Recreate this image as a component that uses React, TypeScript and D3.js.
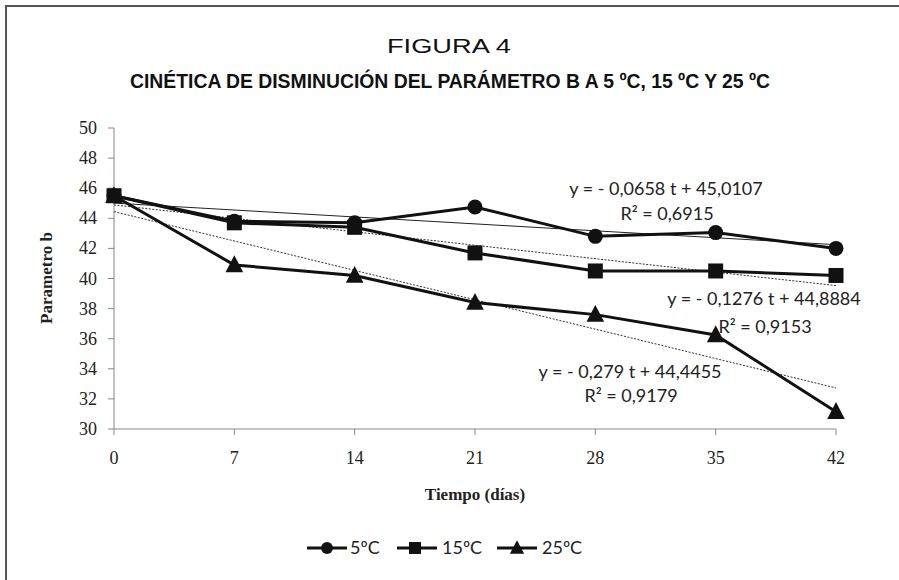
import React from "react";
import * as d3 from "d3";

const days = [0, 7, 14, 21, 28, 35, 42];
const s5 = [45.5, 43.8, 43.7, 44.75, 42.8, 43.05, 42.0];
const s15 = [45.5, 43.7, 43.4, 41.7, 40.5, 40.5, 40.2];
const s25 = [45.5, 40.9, 40.2, 38.4, 37.6, 36.25, 31.15];
const yTicks = [30, 32, 34, 36, 38, 40, 42, 44, 46, 48, 50];

// trend line coefficients (slope, intercept)
const trend5 = [-0.0658, 45.0107];
const trend15 = [-0.1276, 44.8884];
const trend25 = [-0.279, 44.4455];

const serif = "'Liberation Serif', 'DejaVu Serif', serif";
const sans = "Lato, 'Open Sans', sans-serif";
const narrow = "'Liberation Sans Narrow', 'Liberation Sans', Arial, sans-serif";

export default function App() {
  const x = d3.scaleLinear().domain([0, 42]).range([114, 836]);
  const y = d3.scaleLinear().domain([30, 50]).range([429, 128]);

  const line = d3
    .line<number>()
    .x((d, i) => x(days[i]))
    .y((d) => y(d));

  const trend = (c: number[]) => {
    const t0 = 0, t1 = 42;
    return { x1: x(t0), y1: y(c[0] * t0 + c[1]), x2: x(t1), y2: y(c[0] * t1 + c[1]) };
  };

  const tri = (cx: number, cy: number, s: number) =>
    `M${cx},${cy - s * 0.6}L${cx + s * 0.55},${cy + s * 0.45}L${cx - s * 0.55},${cy + s * 0.45}Z`;

  const t5 = trend(trend5);
  const t15 = trend(trend15);
  const t25 = trend(trend25);

  return (
    <svg width={899} height={580} style={{ position: "absolute", left: 0, top: 0, background: "#fff" }}>
      <rect x={0} y={0} width={899} height={580} fill="#fff" />
      <path d="M6,580V6H899" fill="none" stroke="#555" strokeWidth={2} />

      <text x={449} y={53} textAnchor="middle" fontFamily={narrow} fontSize={20} fill="#111"
        textLength={124} lengthAdjust="spacingAndGlyphs">
        FIGURA 4
      </text>
      <text x={450} y={88} textAnchor="middle" fontFamily={narrow} fontSize={20} fontWeight="bold" fill="#111"
        textLength={640} lengthAdjust="spacingAndGlyphs">
        CINÉTICA DE DISMINUCIÓN DEL PARÁMETRO B A 5 ºC, 15 ºC Y 25 ºC
      </text>

      {/* axes */}
      <line x1={114} y1={y(50)} x2={114} y2={y(30)} stroke="#888" />
      <line x1={114} y1={y(30)} x2={836} y2={y(30)} stroke="#888" />
      {yTicks.map((v) => (
        <g key={v}>
          <line x1={108} x2={114} y1={y(v)} y2={y(v)} stroke="#888" />
          <text x={97} y={y(v) + 6} textAnchor="end" fontFamily={serif} fontSize={18} fill="#222">
            {v}
          </text>
        </g>
      ))}
      {days.map((d) => (
        <g key={d}>
          <line x1={x(d)} x2={x(d)} y1={y(30)} y2={y(30) + 6} stroke="#888" />
          <text x={x(d)} y={y(30) + 35} textAnchor="middle" fontFamily={serif} fontSize={18} fill="#222">
            {d}
          </text>
        </g>
      ))}
      <text x={475} y={500} textAnchor="middle" fontFamily={serif} fontSize={17} fontWeight="bold" fill="#222">
        Tiempo (días)
      </text>
      <text transform="translate(52,278) rotate(-90)" textAnchor="middle" fontFamily={serif} fontSize={17} fontWeight="bold" fill="#222">
        Parametro b
      </text>

      {/* trend lines */}
      <line {...t5} stroke="#222" strokeWidth={1} />
      <line {...t15} stroke="#333" strokeWidth={1} strokeDasharray="2,1.5" />
      <line {...t25} stroke="#333" strokeWidth={1} strokeDasharray="2,1.5" />

      {/* series */}
      <path d={line(s5) || ""} fill="none" stroke="#111" strokeWidth={3} />
      <path d={line(s15) || ""} fill="none" stroke="#111" strokeWidth={3} />
      <path d={line(s25) || ""} fill="none" stroke="#111" strokeWidth={3} />
      {s5.map((v, i) => (
        <circle key={"c" + i} cx={x(days[i])} cy={y(v)} r={7.5} fill="#111" />
      ))}
      {s15.map((v, i) => (
        <rect key={"s" + i} x={x(days[i]) - 7.5} y={y(v) - 7.5} width={15} height={15} fill="#111" />
      ))}
      {s25.map((v, i) => (
        <path key={"t" + i} d={tri(x(days[i]), y(v), 16)} fill="#111" />
      ))}

      {/* equations */}
      <g fontFamily={sans} fontSize={18} fill="#222">
        <text x={666} y={195} textAnchor="middle">y = - 0,0658 t + 45,0107</text>
        <text x={667} y={220} textAnchor="middle">R² = 0,6915</text>
        <text x={764} y={305} textAnchor="middle">y = - 0,1276 t + 44,8884</text>
        <text x={765} y={333} textAnchor="middle">R² = 0,9153</text>
        <text x={630} y={378} textAnchor="middle">y = - 0,279 t + 44,4455</text>
        <text x={631} y={402} textAnchor="middle">R² = 0,9179</text>
      </g>

      {/* legend */}
      <g fill="#111" fontFamily={sans} fontSize={18}>
        <line x1={307} x2={347} y1={548} y2={548} stroke="#111" strokeWidth={3} />
        <circle cx={327} cy={548} r={6} />
        <text x={350} y={554} fill="#222">5ºC</text>
        <line x1={397} x2={437} y1={548} y2={548} stroke="#111" strokeWidth={3} />
        <rect x={409} y={542} width={12} height={12} />
        <text x={442} y={554} fill="#222">15ºC</text>
        <line x1={497} x2={537} y1={548} y2={548} stroke="#111" strokeWidth={3} />
        <path d={tri(517, 548, 13)} />
        <text x={542} y={554} fill="#222">25ºC</text>
      </g>
    </svg>
  );
}
